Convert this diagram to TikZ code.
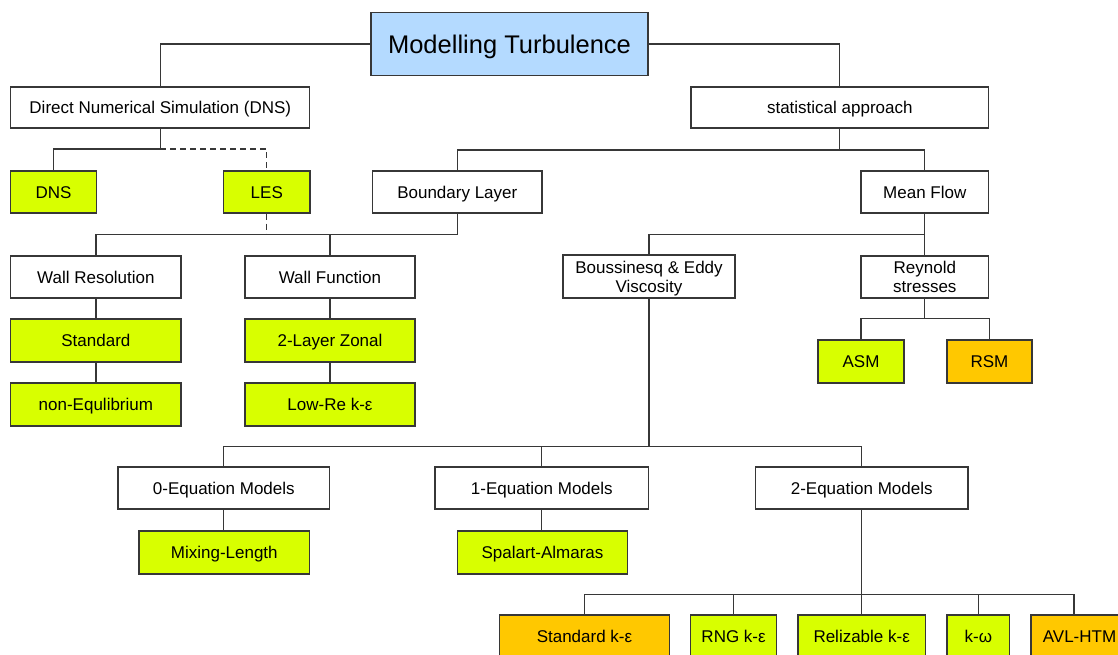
\documentclass[tikz,border=0pt]{standalone}
\usepackage{fontspec}
\setmainfont{Liberation Sans}
\definecolor{tblue}{RGB}{180,218,255}
\definecolor{tgreen}{RGB}{216,255,0}
\definecolor{torange}{RGB}{255,200,0}
\definecolor{tline}{RGB}{55,55,55}
\begin{document}
\begin{tikzpicture}[x=1pt,y=-1pt,
  box/.style={draw=tline, line width=1.3pt, fill=white, inner sep=0pt, align=center,
    font=\fontsize{17}{19}\selectfont, text=black, text height=12.2pt, text depth=0pt},
  twoline/.style={text height=31.2pt, text depth=0pt},
  gbox/.style={box, fill=tgreen},
  obox/.style={box, fill=torange},
  tbox/.style={box, fill=tblue, font=\fontsize{25.5}{28}\selectfont, text height=18.3pt, text depth=0pt},
  conn/.style={draw=tline, line width=1.3pt},
  dconn/.style={conn, dash pattern=on 6pt off 4pt}]
\useasboundingbox (0,0) rectangle (1118,655);
\fill[white] (0,0) rectangle (1118,655);
\clip (0,0) rectangle (1118,655);

% nodes
\node[tbox, minimum width=277pt, minimum height=63pt] (mt) at (509.5,44) {Modelling Turbulence};
\node[box, minimum width=299pt, minimum height=41pt] (dnsl) at (160.3,107.5) {Direct Numerical Simulation (DNS)};
\node[box, minimum width=297.6pt, minimum height=41pt] (stat) at (839.8,107.5) {statistical approach};

\node[gbox, minimum width=85.7pt, minimum height=42pt] (dns) at (53.5,192) {DNS};
\node[gbox, minimum width=86.4pt, minimum height=42pt] (les) at (266.8,192) {LES};
\node[box, minimum width=169.5pt, minimum height=42pt] (bl) at (457.3,192) {Boundary Layer};
\node[box, minimum width=127.6pt, minimum height=42pt] (mf) at (924.8,192) {Mean Flow};

\node[box, minimum width=170.3pt, minimum height=42pt] (wr) at (95.9,277) {Wall Resolution};
\node[box, minimum width=170pt, minimum height=42pt] (wf) at (330,277) {Wall Function};
\node[box, twoline, minimum width=172pt, minimum height=43pt] (bou) at (649,276.5) {Boussinesq \& Eddy\\Viscosity};
\node[box, twoline, minimum width=127.6pt, minimum height=42pt] (rey) at (924.8,277) {Reynold\\stresses};

\node[gbox, minimum width=170.3pt, minimum height=43pt] (std) at (95.9,340.5) {Standard};
\node[gbox, minimum width=170pt, minimum height=43pt] (tlz) at (330,340.5) {2-Layer Zonal};
\node[gbox, minimum width=86pt, minimum height=43pt] (asm) at (861,361.5) {ASM};
\node[obox, minimum width=85pt, minimum height=43pt] (rsm) at (989.5,361.5) {RSM};

\node[gbox, minimum width=170.3pt, minimum height=43pt] (neq) at (95.9,404.5) {non-Equlibrium};
\node[gbox, minimum width=170pt, minimum height=43pt] (lre) at (330,404.5) {Low-Re k-ε};

\node[box, minimum width=211.6pt, minimum height=42pt] (eq0) at (223.8,488) {0-Equation Models};
\node[box, minimum width=213.4pt, minimum height=42pt] (eq1) at (541.8,488) {1-Equation Models};
\node[box, minimum width=212.6pt, minimum height=42pt] (eq2) at (861.7,488) {2-Equation Models};

\node[gbox, minimum width=170.6pt, minimum height=43pt] (ml) at (224.3,552.5) {Mixing-Length};
\node[gbox, minimum width=170pt, minimum height=43pt] (sa) at (542.5,552.5) {Spalart-Almaras};

\node[obox, minimum width=170pt, minimum height=43pt] (ske) at (584.5,636.5) {Standard k-ε};
\node[gbox, minimum width=86pt, minimum height=43pt] (rng) at (733.6,636.5) {RNG k-ε};
\node[gbox, minimum width=127.5pt, minimum height=43pt] (rel) at (861.7,636.5) {Relizable k-ε};
\node[gbox, minimum width=62.7pt, minimum height=43pt] (kw) at (978.3,636.5) {k-ω};
\node[obox, minimum width=97pt, minimum height=43pt] (avl) at (1079.5,636.5) {AVL-HTM};

% junction coordinates
\coordinate (j1) at (160.3,149);
\coordinate (j2) at (839.8,150);
\coordinate (j3) at (457.3,234.7);
\coordinate (j4) at (924.8,234.7);
\coordinate (j5) at (924.8,318.7);
\coordinate (j6) at (649,446.7);
\coordinate (j7) at (861.7,594.5);
\coordinate (javl) at (1074,594.5);

% connectors
\draw[conn] (mt.west) -| (dnsl.north);
\draw[conn] (mt.east) -| (stat.north);

\draw[conn] (dnsl.south) -- (j1) -| (dns.north);
\draw[dconn] (j1) -| (les.north);
\draw[dconn] (les.south) -- (les.south |- j3);

\draw[conn] (stat.south) -- (j2);
\draw[conn] (bl.north) |- (j2) -| (mf.north);

\draw[conn] (bl.south) -- (j3);
\draw[conn] (wr.north) |- (j3);
\draw[conn] (wf.north) -- (wf.north |- j3);

\draw[conn] (mf.south) -- (rey.north);
\draw[conn] (bou.north) |- (j4);

\draw[conn] (rey.south) -- (j5);
\draw[conn] (asm.north) |- (j5) -| (rsm.north);

\draw[conn] (wr.south) -- (std.north);
\draw[conn] (std.south) -- (neq.north);
\draw[conn] (wf.south) -- (tlz.north);
\draw[conn] (tlz.south) -- (lre.north);

\draw[conn] (bou.south) -- (j6);
\draw[conn] (eq0.north) |- (j6) -| (eq2.north);
\draw[conn] (eq1.north) -- (eq1.north |- j6);

\draw[conn] (eq0.south) -- (eq0.south |- ml.north);
\draw[conn] (eq1.south) -- (eq1.south |- sa.north);

\draw[conn] (eq2.south) -- (rel.north);
\draw[conn] (ske.north) |- (javl) -- (javl |- avl.north);
\draw[conn] (rng.north) -- (rng.north |- j7);
\draw[conn] (kw.north) -- (kw.north |- j7);
\end{tikzpicture}
\end{document}
